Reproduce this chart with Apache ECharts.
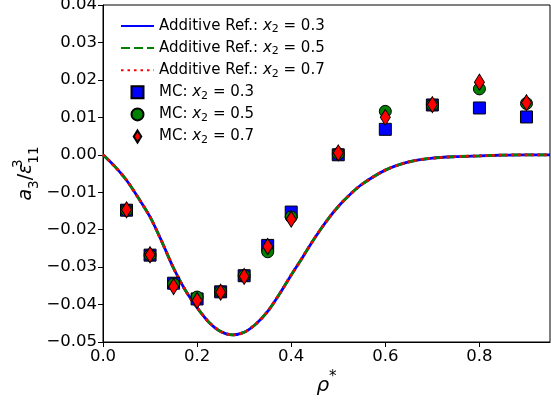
<!DOCTYPE html>
<html><head><meta charset="utf-8">
<script src="https://cdn.jsdelivr.net/npm/echarts@6/dist/echarts.min.js"></script>
<style>html,body{margin:0;padding:0;background:#fff}#c{width:551px;height:402px}</style>
</head><body><div id="c"></div>
<script>
// Reference curve (additive)
const refRho = [0,0.025,0.05,0.075,0.1,0.125,0.15,0.175,0.2,0.225,0.25,0.275,0.3,0.325,0.35,0.375,0.4,0.425,0.45,0.475,0.5,0.525,0.55,0.6,0.65,0.7,0.75,0.8,0.85,0.9,0.95];
const refA3 = [0,-0.0031,-0.0068,-0.0115,-0.0166,-0.0232,-0.0303,-0.0362,-0.0408,-0.0447,-0.0472,-0.0481,-0.0474,-0.0452,-0.0418,-0.0372,-0.0321,-0.0272,-0.0222,-0.0177,-0.0138,-0.0106,-0.0079,-0.0041,-0.0019,-0.0009,-0.0005,-0.0003,-0.0001,0,0];
// MC data
const mcRho = [0.05,0.1,0.15,0.2,0.25,0.3,0.35,0.4,0.5,0.6,0.7,0.8,0.9];
const mc03 = [-0.0148,-0.0268,-0.0343,-0.0385,-0.0366,-0.0323,-0.0242,-0.0153,0.0000,0.0068,0.0133,0.0125,0.0101];
const mc05 = [-0.0148,-0.0268,-0.0345,-0.0380,-0.0366,-0.0323,-0.0259,-0.0166,0.0003,0.0116,0.0133,0.0176,0.0137];
const mc07 = [-0.0147,-0.0267,-0.0352,-0.0389,-0.0367,-0.0325,-0.0245,-0.0172,0.0005,0.0100,0.0134,0.0194,0.0139];
const xTicks = [0,0.2,0.4,0.6,0.8];
const yTicks = [-0.05,-0.04,-0.03,-0.02,-0.01,0,0.01,0.02,0.03,0.04];

const FONT = 'DejaVu Sans';
const pair = (xs, ys) => xs.map((x,i)=>[x, ys[i]]);
const names = {
  l3:'Additive Ref.: x2 = 0.3', l5:'Additive Ref.: x2 = 0.5', l7:'Additive Ref.: x2 = 0.7',
  m3:'MC: x2 = 0.3', m5:'MC: x2 = 0.5', m7:'MC: x2 = 0.7'
};
const richLbl = {
  [names.l3]:'Additive Ref.: {i|x}{s|2} = 0.3', [names.l5]:'Additive Ref.: {i|x}{s|2} = 0.5', [names.l7]:'Additive Ref.: {i|x}{s|2} = 0.7',
  [names.m3]:'MC: {i|x}{s|2} = 0.3', [names.m5]:'MC: {i|x}{s|2} = 0.5', [names.m7]:'MC: {i|x}{s|2} = 0.7'
};
const fmt = v => (v < 0 ? '\u2212' : '') + Math.abs(v).toFixed(2);
const lineSeries = (name, color, type) => ({
  name, type:'line', data: pair(refRho, refA3), smooth: 0.3, symbol:'none', z: 2,
  lineStyle:{color, width:2.8, type, cap:'butt'}, itemStyle:{color}
});
const mcSeries = (name, color, symbol, size, ys, z) => ({
  name, type:'scatter', data: pair(mcRho, ys), symbol, symbolSize:size, z,
  itemStyle:{color, borderColor:'#000', borderWidth:1, opacity:1}
});
const hideSym = {opacity:0};
const chart = echarts.init(document.getElementById('c'), null, {renderer:'canvas'});
chart.setOption({
  animation:false,
  backgroundColor:'#fff',
  textStyle:{fontFamily:FONT},
  grid:{left:103, right:1, top:5, bottom:60, show:true, borderColor:'#000', borderWidth:1, backgroundColor:'transparent',
    containLabel:false, outerBoundsMode:'none'},
  xAxis:{type:'value', min:0, max:0.95, interval:0.2,
    axisLine:{show:true, onZero:false, lineStyle:{color:'#000', width:1}},
    axisTick:{show:true, inside:false, length:5, lineStyle:{color:'#000'}},
    splitLine:{show:false},
    axisLabel:{color:'#000', fontSize:16.5, fontFamily:FONT, margin:6, showMaxLabel:false,
      formatter: v => xTicks.some(t=>Math.abs(t-v)<1e-9) ? v.toFixed(1) : ''},
    name:'{i|\u03c1}{sup|*}', nameLocation:'middle', nameGap:26,
    nameTextStyle:{fontFamily:FONT, color:'#000', rich:{
      i:{fontSize:20, fontStyle:'italic', fontFamily:FONT, color:'#000', lineHeight:26, verticalAlign:'bottom'},
      sup:{fontSize:15, fontFamily:FONT, color:'#000', lineHeight:26, verticalAlign:'top'}}}
  },
  yAxis:{type:'value', min:-0.05, max:0.04, interval:0.01,
    axisLine:{show:true, onZero:false, lineStyle:{color:'#000', width:1}},
    axisTick:{show:true, inside:false, length:5, lineStyle:{color:'#000'}},
    splitLine:{show:false},
    axisLabel:{color:'#000', fontSize:16.5, fontFamily:FONT, margin:6, formatter: fmt},
    name:'{i|a}{s|3}{n|/}{i|\u03b5}{p|3}{s|11}', nameLocation:'middle', nameGap:62, nameRotate:90, nameMoveOverlap:false,
    nameTextStyle:{fontFamily:FONT, color:'#000', rich:{
      i:{fontSize:19, fontStyle:'italic', fontFamily:FONT, color:'#000', lineHeight:30, verticalAlign:'middle'},
      n:{fontSize:19, fontFamily:FONT, color:'#000', lineHeight:30, verticalAlign:'middle'},
      s:{fontSize:13.5, fontFamily:FONT, color:'#000', lineHeight:30, verticalAlign:'bottom'},
      p:{fontSize:13.5, fontFamily:FONT, color:'#000', lineHeight:30, verticalAlign:'top', width:0}}}
  },
  legend:{orient:'vertical', left:115, top:12, itemWidth:33, itemHeight:12, itemGap:4.1,
    data:[
      {name:names.l3, itemStyle:hideSym}, {name:names.l5, itemStyle:hideSym}, {name:names.l7, itemStyle:hideSym},
      {name:names.m3, icon:'path://M0,0L10,0L10,10L0,10Z'}, {name:names.m5, icon:'circle'}, {name:names.m7, icon:'path://M5,0L10,8L5,16L0,8Z'}
    ],
    formatter: n => richLbl[n],
    textStyle:{fontFamily:FONT, fontSize:15, color:'#000', lineHeight:18, rich:{
      i:{fontSize:15, fontStyle:'italic', fontFamily:FONT, color:'#000', lineHeight:18},
      s:{fontSize:11, fontFamily:FONT, color:'#000', lineHeight:18, verticalAlign:'bottom'}}}
  },
  series:[
    lineSeries(names.l3, '#0000ff', 'solid'),
    lineSeries(names.l5, '#008000', [9,4]),
    lineSeries(names.l7, '#ff0000', [2.5,4]),
    mcSeries(names.m3, '#0000ff', 'rect', 12, mc03, 3),
    mcSeries(names.m5, '#008000', 'circle', 12, mc05, 4),
    mcSeries(names.m7, '#ff0000', 'diamond', [10,16], mc07, 5)
  ]
});
</script></body></html>
